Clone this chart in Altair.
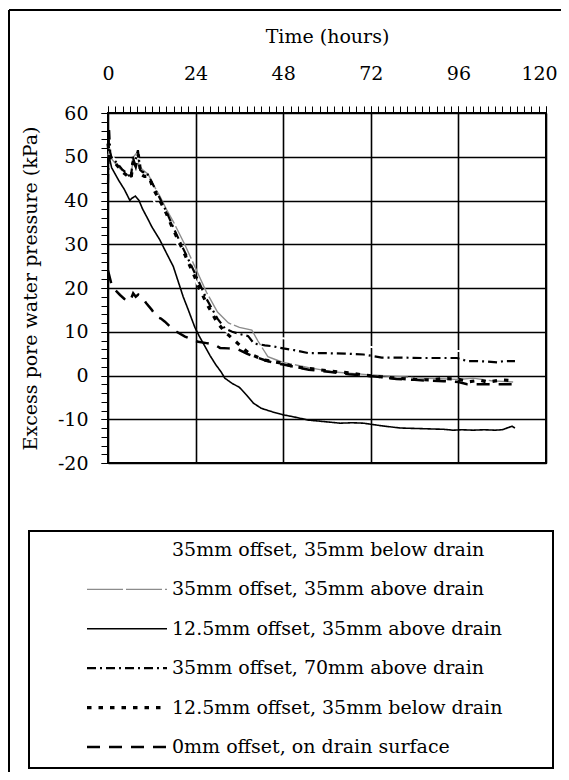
import altair as alt
import pandas as pd

# ---- data ----
names = [
    "35mm offset, 35mm below drain",
    "35mm offset, 35mm above drain",
    "12.5mm offset, 35mm above drain",
    "35mm offset, 70mm above drain",
    "12.5mm offset, 35mm below drain",
    "0mm offset, on drain surface",
]

white_t = [0, 0.5, 3, 6, 7, 8, 9.5, 11, 12.5, 15, 19, 22, 25, 28.5, 32.5, 36, 40, 48, 60, 72, 85, 96, 100]
white_v = [50, 51, 48, 45, 50, 50, 46, 45, 40, 36, 30, 25, 20, 15, 10, 9.3, 9, 8.5, 7.5, 6.5, 6, 5.6, 5.4]

gray_t = [0, 0.4, 1, 3, 5, 6, 6.5, 7, 8, 8.5, 9.5, 11, 12.5, 14.2, 16, 18, 21, 24, 27, 30, 33, 36, 39.4, 41, 42.5, 43.8, 46, 48, 55, 62, 71, 84, 96, 100, 105, 111]
gray_v = [50, 52, 49.5, 47.5, 46, 45.5, 47, 50, 51, 48, 47, 46, 43.5, 41, 38, 35, 30, 24.5, 19, 14.5, 12, 11, 10.4, 8, 6, 4.3, 3.6, 3, 1.8, 0.8, 0.2, -0.5, -0.9, -0.6, -1.2, -1.5]

solid_t = [0, 0.3, 1, 2, 3, 4.5, 6, 6.5, 7.5, 8.5, 9.5, 10.6, 12, 14.2, 16, 17.9, 19.7, 20.6, 22, 23.8, 25, 26.6, 28, 29.5, 31, 32, 34, 36, 38, 39.8, 42, 45, 48, 50, 55, 60, 63.6, 67, 70, 75, 80, 84, 88, 92, 94.5, 97, 100, 103, 106, 108, 109, 110.7, 111.5]
solid_v = [48.5, 50, 47.5, 46, 44.5, 42.5, 40, 40.5, 41, 40, 38, 36.3, 34, 31, 28, 24.9, 20.3, 18, 15, 11, 9, 6.6, 4.5, 2.5, 0.8, -0.6, -1.8, -2.7, -4.5, -6.3, -7.5, -8.3, -9, -9.3, -10.2, -10.6, -10.9, -10.8, -10.9, -11.5, -12, -12.1, -12.2, -12.3, -12.5, -12.4, -12.5, -12.4, -12.5, -12.4, -12.1, -11.6, -12]

dashdot_t = [0, 0.3, 0.6, 0.9, 1.5, 2.5, 4, 5.5, 6.3, 6.8, 7.3, 7.8, 8.2, 8.8, 9.5, 10.5, 11.5, 13, 14.2, 16, 17.8, 20.6, 23.8, 27, 30, 32, 34, 36, 38.4, 40, 43, 45, 48, 51, 55, 60, 65, 70, 75, 80, 86, 91, 95.6, 98.4, 101, 104, 106.6, 108.5, 111.5]
dashdot_v = [44, 56.5, 51, 50, 49.5, 48.5, 47, 46, 45, 50, 48.5, 50, 51.5, 47, 46.5, 46.5, 45, 42.5, 40.5, 37.5, 34, 29, 23.4, 17.5, 13, 10.8, 10, 9.5, 9, 7.3, 6.9, 6.7, 6.2, 5.8, 5.1, 5.1, 5, 4.8, 4.1, 4.1, 4, 4, 4, 3.3, 3.3, 3.2, 3, 3.3, 3.3]

dotted_t = [0, 0.4, 1, 2, 4, 5.5, 6.3, 7, 7.6, 8.3, 9, 10, 11.2, 12.5, 14.2, 16, 17.8, 20.6, 23.8, 25, 27, 30, 32, 34, 36, 38, 40, 43, 48, 51, 55, 61, 66, 70, 75, 79, 84, 88, 92, 95.6, 99, 102, 104, 108, 111.5]
dotted_v = [53, 50, 49.5, 48.5, 46.5, 45.5, 45, 49.5, 48, 50.5, 46, 45.5, 45.5, 42.5, 40, 37, 33.5, 28.5, 22.5, 20, 16.5, 12, 10, 8.5, 7, 5.5, 4.5, 3.5, 2.8, 2, 1.6, 1, 0.6, 0.1, -0.3, -0.6, -0.9, -1, -0.7, -0.8, -1.4, -1.1, -1.5, -1, -1.2]

dashed_t = [0, 0.3, 1, 2, 3.3, 4.5, 5.6, 6.3, 6.9, 7.6, 8.3, 9.2, 10.5, 12, 13.3, 14.5, 15.6, 17, 18.8, 21.1, 24.7, 27, 29.3, 30.7, 33, 35.6, 38, 40.5, 43, 45, 48, 51, 55, 61, 66, 70, 75, 79, 84, 88, 92, 96, 98.4, 101, 105, 108, 111]
dashed_v = [24, 23, 20.7, 19.5, 18.4, 17.5, 16.9, 17.5, 18.8, 18, 18.5, 18, 16.5, 15, 13.4, 13, 12.3, 11.2, 10, 8.9, 7.7, 7.4, 7, 6.3, 6.2, 6, 5, 4.2, 3.5, 3, 2.5, 2, 1.3, 0.8, 0.3, 0, -0.4, -0.8, -1, -1.2, -1.3, -1.5, -2, -2, -2, -2, -2]

x_ticks = [0, 24, 48, 72, 96, 120]
y_ticks = [-20, -10, 0, 10, 20, 30, 40, 50, 60]
x_minor = list(range(0, 121, 2))
y_minor = list(range(-20, 61, 2))

# ---- styles ----
colors = ["white", "#8c8c8c", "black", "black", "black", "black"]
dashes = [[1, 0], [36, 3], [1, 0], [9, 4, 2, 4], [4.5, 7], [13, 9]]
widths = [2, 1.4, 1.6, 2.2, 3.2, 2.5]

series = [(white_t, white_v), (gray_t, gray_v), (solid_t, solid_v),
          (dashdot_t, dashdot_v), (dotted_t, dotted_v), (dashed_t, dashed_v)]
rows = []
for name, (ts, vs) in zip(names, series):
    for i, (t, v) in enumerate(zip(ts, vs)):
        rows.append({"series": name, "t": t, "v": v, "i": i})
df = pd.DataFrame(rows)
leg = pd.DataFrame({"series": names, "k": list(range(len(names)))})

FONT = "DejaVu Serif"
FS = 19

xscale = alt.Scale(domain=[0, 120], nice=False)
yscale = alt.Scale(domain=[-20, 60], nice=False)
cscale = alt.Scale(domain=names, range=colors)
dscale = alt.Scale(domain=names, range=dashes)
kscale = alt.Scale(domain=[0, 5], range=[437, 634], nice=False, zero=False)

axes_major = alt.Chart(df).mark_point(opacity=0, size=1).encode(
    x=alt.X("t:Q", scale=xscale,
            axis=alt.Axis(orient="top", values=x_ticks, title="Time (hours)",
                          tickSize=7, labelPadding=23, titlePadding=18, labelFlush=False,
                          labelOffset={"condition": {"test": "datum.value === 120", "value": -7},
                                       "value": 0},
                          grid=True, gridColor="black", gridWidth=1.6,
                          domain=False, tickColor="black", tickWidth=1)),
    y=alt.Y("v:Q", scale=yscale,
            axis=alt.Axis(orient="left", values=y_ticks,
                          title="Excess pore water pressure (kPa)",
                          labelExpr="datum.value + ''",
                          tickSize=7, labelPadding=13, titlePadding=17, labelFlush=False,
                          grid=True, gridColor="black", gridWidth=1.6,
                          domain=False, tickColor="black", tickWidth=1)),
)

axes_minor = alt.Chart(df).mark_point(opacity=0, size=1).encode(
    x=alt.X("t:Q", scale=xscale,
            axis=alt.Axis(orient="top", values=x_minor, labels=False, title=None,
                          tickSize=7, grid=False, domain=False, tickColor="black", tickWidth=1)),
    y=alt.Y("v:Q", scale=yscale,
            axis=alt.Axis(orient="left", values=y_minor, labels=False, title=None,
                          tickSize=7, grid=False, domain=False, tickColor="black", tickWidth=1)),
)

line_layers = []
sym_layers = []
for name, w in zip(names, widths):
    line_layers.append(
        alt.Chart(df).transform_filter(alt.datum.series == name)
        .mark_line(interpolate="linear", strokeWidth=w)
        .encode(
            x=alt.X("t:Q", scale=xscale, axis=None),
            y=alt.Y("v:Q", scale=yscale, axis=None),
            order="i:Q",
            color=alt.Color("series:N", scale=cscale, legend=None),
            strokeDash=alt.StrokeDash("series:N", scale=dscale, legend=None),
        )
    )
    sym_layers.append(
        alt.Chart(leg).transform_filter(alt.datum.series == name)
        .mark_rule(strokeWidth=w)
        .encode(
            x=alt.value(-21), x2=alt.value(59),
            y=alt.Y("k:Q", scale=kscale, axis=None),
            color=alt.Color("series:N", scale=cscale, legend=None),
            strokeDash=alt.StrokeDash("series:N", scale=dscale, legend=None),
        )
    )

leg_txt = alt.Chart(leg).mark_text(align="left", baseline="middle", font=FONT,
                                   fontSize=FS, color="black").encode(
    x=alt.value(64),
    y=alt.Y("k:Q", scale=kscale, axis=None),
    text="series:N",
)

frame_top = alt.Chart(leg).mark_rule(color="black", strokeWidth=2).encode(
    x=alt.value(-99), x2=alt.value(600), y=alt.value(-103))
frame_left = alt.Chart(leg).mark_rule(color="black", strokeWidth=2).encode(
    x=alt.value(-99), y=alt.value(-103), y2=alt.value(700))
legend_box = alt.Chart(leg).mark_rect(filled=False, stroke="black", strokeWidth=2).encode(
    x=alt.value(-79), x2=alt.value(445), y=alt.value(418), y2=alt.value(655))

chart = alt.layer(
    axes_minor, axes_major, *line_layers, *sym_layers, leg_txt,
    frame_top, frame_left, legend_box
).resolve_axis(
    x="independent", y="independent"
).resolve_scale(
    y="independent"
).properties(
    width=438, height=350,
    background="white",
    autosize=alt.AutoSizeParams(type="none"),
    padding={"left": 100, "top": 105, "right": 15, "bottom": 309},
).configure_view(
    stroke="black", strokeWidth=2
).configure_axis(
    labelFont=FONT, labelFontSize=FS, labelColor="black",
    titleFont=FONT, titleFontSize=FS, titleColor="black", titleFontWeight="normal",
)

chart.save("out.html", embed_options={"renderer": "svg", "actions": False})
